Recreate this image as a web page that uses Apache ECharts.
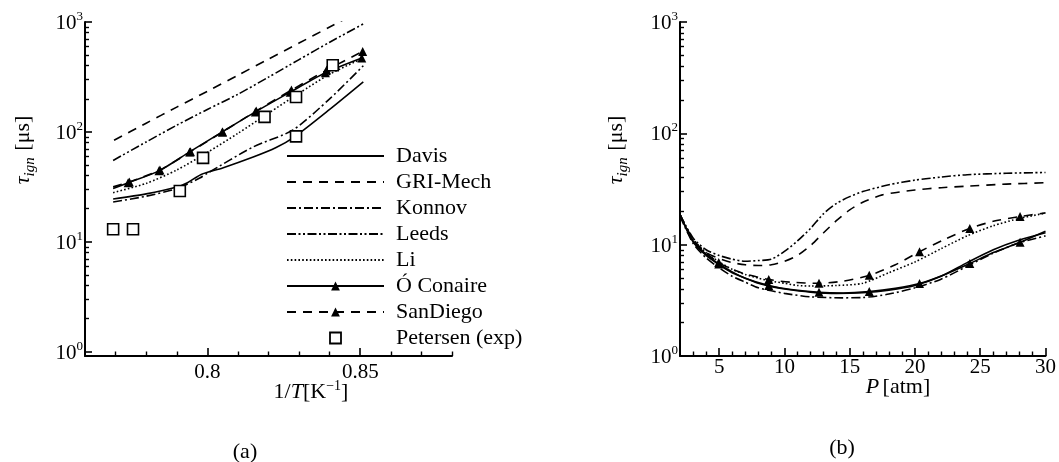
<!DOCTYPE html>
<html>
<head>
<meta charset="utf-8">
<script src="https://cdn.jsdelivr.net/npm/echarts@6/dist/echarts.min.js"></script>
<style>
  html, body { margin: 0; background: #fff; }
  #chart { width: 1059px; height: 462px; }
</style>
</head>
<body>
<div id="chart"></div>
<script>
// ---- (a) ignition delay vs 1/T  [x: 1/T, y: tau_ign in us]
var aDavis    = [[0.7692,24.5],[0.78,27.3],[0.79,31.5],[0.7935,34.5],[0.798,41],[0.805,47],[0.815,59],[0.8225,72],[0.8285,90],[0.84,160],[0.851,285]];
var aGRI      = [[0.7695,84],[0.78,120],[0.79,168],[0.80,234],[0.81,328],[0.82,459],[0.83,643],[0.84,900],[0.851,1300]];
var aKonnov   = [[0.7692,23],[0.78,26],[0.79,30.5],[0.7975,38],[0.80,42],[0.815,73],[0.828,104],[0.84,200],[0.851,400]];
var aLeeds    = [[0.7692,55],[0.78,81],[0.79,115],[0.80,160],[0.81,220],[0.82,315],[0.83,455],[0.84,655],[0.851,960]];
var aLi       = [[0.7692,28],[0.78,34],[0.79,45],[0.80,65],[0.81,97],[0.82,148],[0.83,225],[0.84,335],[0.851,470]];
var aConaire  = [[0.7692,30.6],[0.7741,34.4],[0.7842,44.2],[0.7942,65.8],[0.8049,100],[0.8157,152],[0.8271,230],[0.8386,345],[0.8505,470]];
var aConaireMark  = [0,1,1,1,1,1,1,1,1];
var aSanDiego = [[0.7692,31.6],[0.7745,35],[0.7845,45],[0.7945,66],[0.805,100],[0.816,155],[0.8275,240],[0.839,365],[0.8508,540]];
var aSanDiegoMark = [0,1,1,1,1,1,1,1,1];
var aPetersen = [[0.7692,13],[0.7757,13],[0.791,29],[0.7986,58],[0.8187,137],[0.829,91],[0.829,208],[0.841,404]];

// ---- (b) ignition delay vs P  [x: P atm, y: tau_ign in us]
var bDavis    = [[2,18.5],[3,10.6],[4,8.0],[5,6.6],[6,5.6],[7,5.0],[8,4.5],[9,4.2],[10,4.0],[12,3.75],[14,3.64],[16,3.7],[18,3.9],[20,4.3],[22,5.2],[24,6.9],[26,9.0],[28,11.0],[30,12.8]];
var bGRI      = [[2,18.6],[3,11],[4,8.5],[5,7.5],[6,6.9],[7,6.6],[8,6.5],[9,6.6],[10,7.1],[11,8],[12,9.8],[13,12.8],[14,16.5],[15,20.5],[16,24],[17.5,28],[20,31],[22,32.5],[24,33.5],[27,35],[30,36]];
var bKonnov   = [[2,18],[3,10.3],[4,7.6],[5,6.2],[6,5.2],[7,4.6],[8,4.1],[9,3.85],[10,3.65],[12,3.4],[14.4,3.33],[16,3.35],[18,3.6],[20,4.1],[22,4.9],[24,6.4],[26,8.4],[28,10.4],[30,12.0]];
var bLeeds    = [[2,18.6],[3,11.5],[4,9],[5,8],[6,7.4],[7,7.1],[8,7.2],[9,7.4],[10,8.7],[11,10.8],[12,14],[13,19],[14,23.5],[15,27],[16,30],[18,34.5],[20,38],[22,40.5],[24,42.5],[27,43.8],[30,44.5]];
var bLi       = [[2,18.5],[3,11.2],[4,8.5],[5,7.0],[6,6.0],[7,5.4],[8,5.0],[9,4.7],[10,4.5],[11,4.3],[12,4.25],[14,4.3],[16,4.5],[18,5.6],[20,7.0],[22,9.2],[24,12],[26,14.8],[28,17.2],[30,19.2]];
var bConaire  = [[2,18.5],[3,10.8],[4,8.2],[4.97,6.7],[6,5.7],[7,5.0],[8.8,4.3],[10.5,3.95],[12.65,3.73],[14.5,3.68],[16.5,3.79],[18.5,4.05],[20.35,4.47],[22.3,5.4],[24.2,6.76],[26,8.5],[28.05,10.5],[30,13.2]];
var bConaireMark  = [0,0,0,1,0,0,1,0,1,0,1,0,1,0,1,0,1,0];
var bSanDiego = [[2,18.6],[3,11],[4,8.4],[4.97,6.9],[6,6.0],[7,5.45],[8.8,4.86],[10.5,4.6],[12.65,4.5],[14.5,4.7],[16.5,5.3],[18.5,6.6],[20.35,8.65],[22.3,11.2],[24.2,14],[26,16.2],[28.05,17.9],[30,19.3]];
var bSanDiegoMark = [0,0,0,1,0,0,1,0,1,0,1,0,1,0,1,0,1,0];

// ---- ticks
var yMajor  = [1, 10, 100, 1000];
var yMinor  = [2,3,4,5,6,7,8,9,20,30,40,50,60,70,80,90,200,300,400,500,600,700,800,900];
var aXMajor = [0.8, 0.85];
var aXMinor = [0.77,0.78,0.79,0.81,0.82,0.83,0.84,0.86,0.87,0.88];
var bXMajor = [5, 10, 15, 20, 25, 30];
var bXMinor = [3,4,6,7,8,9,11,12,13,14,16,17,18,19,21,22,23,24,26,27,28,29];

var FONT = 'Liberation Serif';
var names = ['Davis', 'GRI-Mech', 'Konnov', 'Leeds', 'Li', 'Ó Conaire', 'SanDiego', 'Petersen (exp)'];
var dash = {
    'Davis': 'solid',
    'GRI-Mech': [9, 7],
    'Konnov': [9, 3, 2, 3],
    'Leeds': [9, 2.5, 2, 2.5, 2, 2.5],
    'Li': [1.6, 2.2],
    'Ó Conaire': 'solid',
    'SanDiego': [9, 7]
};

function supLabel(v) {
    return '{b|10}{s|' + Math.round(Math.log10(v)) + '}';
}
var supRich = {
    b: { fontFamily: FONT, fontSize: 21, color: '#000', lineHeight: 24, verticalAlign: 'bottom' },
    s: { fontFamily: FONT, fontSize: 13, color: '#000', lineHeight: 24, verticalAlign: 'top' }
};

function xAxes(grid, min, max, majors, minors, margin) {
    return [{
        type: 'value', gridIndex: grid, position: 'bottom', min: min, max: max,
        axisLine: { show: true, lineStyle: { color: '#000', width: 2 } },
        axisTick: { show: true, inside: true, length: 8, customValues: majors, lineStyle: { color: '#000', width: 1.6 } },
        axisLabel: { customValues: majors, margin: margin, fontFamily: FONT, fontSize: 21, color: '#000' },
        splitLine: { show: false }
    }, {
        type: 'value', gridIndex: grid, position: 'bottom', min: min, max: max,
        axisLine: { show: false },
        axisTick: { show: true, inside: true, length: 4.5, customValues: minors, lineStyle: { color: '#000', width: 1.4 } },
        axisLabel: { show: false },
        splitLine: { show: false }
    }];
}
function yAxes(grid, min) {
    return [{
        type: 'log', gridIndex: grid, position: 'left', min: min, max: 1000,
        axisLine: { show: true, lineStyle: { color: '#000', width: 2 } },
        axisTick: { show: true, inside: true, length: 7, customValues: yMajor, lineStyle: { color: '#000', width: 1.6 } },
        axisLabel: { customValues: yMajor, margin: 2, formatter: supLabel, rich: supRich },
        splitLine: { show: false }
    }, {
        type: 'log', gridIndex: grid, position: 'left', min: min, max: 1000,
        axisLine: { show: false },
        axisTick: { show: true, inside: true, length: 4, customValues: yMinor, lineStyle: { color: '#000', width: 1.4 } },
        axisLabel: { show: false },
        splitLine: { show: false }
    }];
}

function curve(name, pts, marks, xi, yi) {
    var data = pts.map(function (p, i) {
        if (marks && marks[i]) return { value: p };
        return { value: p, symbol: 'none' };
    });
    return {
        name: name, type: 'line', xAxisIndex: xi, yAxisIndex: yi,
        data: data, smooth: 0.25, showSymbol: true,
        symbol: marks ? 'triangle' : 'none', symbolSize: 9,
        itemStyle: { color: '#000' },
        lineStyle: { color: '#000', width: 1.6, type: dash[name] },
        emphasis: { disabled: true }, z: 3
    };
}

var series = [
    curve('Davis', aDavis, null, 0, 0),
    curve('GRI-Mech', aGRI, null, 0, 0),
    curve('Konnov', aKonnov, null, 0, 0),
    curve('Leeds', aLeeds, null, 0, 0),
    curve('Li', aLi, null, 0, 0),
    curve('Ó Conaire', aConaire, aConaireMark, 0, 0),
    curve('SanDiego', aSanDiego, aSanDiegoMark, 0, 0),
    {
        name: 'Petersen (exp)', type: 'scatter', xAxisIndex: 0, yAxisIndex: 0,
        data: aPetersen, symbol: 'rect', symbolSize: 11,
        itemStyle: { color: '#fff', borderColor: '#000', borderWidth: 1.6, opacity: 1 },
        emphasis: { disabled: true }, z: 4
    },
    curve('Davis', bDavis, null, 2, 2),
    curve('GRI-Mech', bGRI, null, 2, 2),
    curve('Konnov', bKonnov, null, 2, 2),
    curve('Leeds', bLeeds, null, 2, 2),
    curve('Li', bLi, null, 2, 2),
    curve('Ó Conaire', bConaire, bConaireMark, 2, 2),
    curve('SanDiego', bSanDiego, bSanDiegoMark, 2, 2)
];

// legend entries: hide the marker for plain lines, square icon for the data
var legendData = names.map(function (n) {
    if (n === 'Ó Conaire' || n === 'SanDiego') return { name: n };
    if (n === 'Petersen (exp)') {
        return { name: n, icon: 'path://M0,0H10V10H0Z',
                 itemStyle: { color: '#fff', borderColor: '#000', borderWidth: 1.8, opacity: 1 } };
    }
    return { name: n, itemStyle: { opacity: 0 } };
});

var txt = { fontFamily: FONT, fontSize: 22, color: '#000' };
var it = { fontFamily: FONT, fontSize: 22, color: '#000', fontStyle: 'italic' };
var sub = { fontFamily: FONT, fontSize: 15, color: '#000', fontStyle: 'italic', verticalAlign: 'bottom', lineHeight: 30 };
var sup = { fontFamily: FONT, fontSize: 14, color: '#000', verticalAlign: 'top', lineHeight: 26 };

function yTitle(x) {
    return {
        type: 'text', x: x, y: 150, rotation: Math.PI / 2,
        style: {
            text: '{t|τ}{i|ign}  {n|[μs]}', align: 'center', verticalAlign: 'middle',
            rich: { t: it, i: sub, n: txt }
        }
    };
}

var option = {
    animation: false,
    backgroundColor: '#fff',
    grid: [
        { left: 85, top: 22, width: 367, height: 334 },
        { left: 680, top: 22, width: 367, height: 334 }
    ],
    xAxis: xAxes(0, 0.76, 0.88, aXMajor, aXMinor, 6).concat(xAxes(1, 2, 30, bXMajor, bXMinor, 1)),
    yAxis: yAxes(0, 0.914).concat(yAxes(1, 1)),
    legend: {
        data: legendData, orient: 'vertical', left: 286, top: 145, padding: 0,
        itemWidth: 97, itemHeight: 11, itemGap: 4, selectedMode: false,
        symbolKeepAspect: true,
        textStyle: { fontFamily: FONT, fontSize: 22, color: '#000', padding: [0, 0, 0, 7] }
    },
    graphic: [
        yTitle(23),
        yTitle(616),
        {
            type: 'text', x: 311, y: 392,
            style: { text: '{n|1/}{i|T}{n|[K}{s|−1}{n|]}', align: 'center', verticalAlign: 'middle',
                     rich: { n: txt, i: it, s: sup } }
        },
        {
            type: 'text', x: 898, y: 387,
            style: { text: '{i|P} {n|[atm]}', align: 'center', verticalAlign: 'middle', rich: { n: txt, i: it } }
        },
        { type: 'text', x: 245, y: 452, style: { text: '(a)', font: '22px ' + FONT, fill: '#000', align: 'center', verticalAlign: 'middle' } },
        { type: 'text', x: 842, y: 448, style: { text: '(b)', font: '22px ' + FONT, fill: '#000', align: 'center', verticalAlign: 'middle' } }
    ],
    series: series
};

echarts.init(document.getElementById('chart')).setOption(option);
</script>
</body>
</html>
